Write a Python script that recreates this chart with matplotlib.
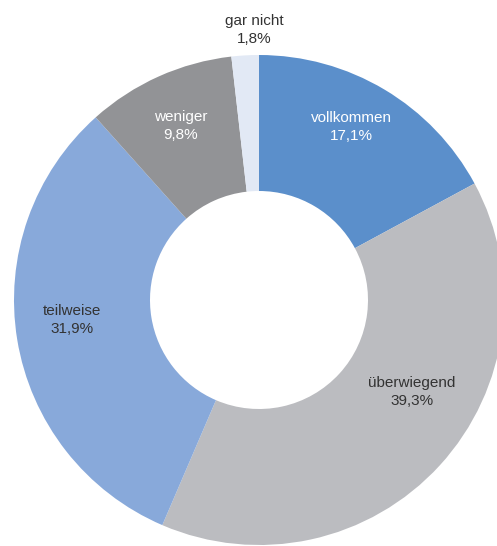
import matplotlib
matplotlib.use("Agg")
import matplotlib.pyplot as plt

# data
labels = ["vollkommen", "überwiegend", "teilweise", "weniger", "gar nicht"]
values = [17.1, 39.3, 31.9, 9.8, 1.8]
value_text = ["17,1%", "39,3%", "31,9%", "9,8%", "1,8%"]
colors = ["#5b8fcb", "#bbbcc0", "#88a9da", "#929396", "#e2e9f5"]
text_colors = ["white", "#333333", "#333333", "white", "#333333"]

# label positions in pixels (from top left)
label_pos = [(351, 127), (412, 392), (72, 320), (181, 126), (254, 30)]

W, H = 497, 546
fig = plt.figure(figsize=(W / 100, H / 100), dpi=100)
ax = fig.add_axes([0, 0, 1, 1])

cx, cy, r_out, r_in = 259, H - 300, 245, 109
ax.pie(values, colors=colors, startangle=90, counterclock=False,
       center=(cx, cy), radius=r_out, frame=True,
       wedgeprops=dict(width=r_out - r_in, linewidth=0))
ax.set_xlim(0, W)
ax.set_ylim(0, H)
ax.set_aspect("equal")
ax.axis("off")

for lab, val, tc, (px, py) in zip(labels, value_text, text_colors, label_pos):
    ax.text(px, H - py, lab + "\n" + val, color=tc, ha="center", va="center",
            fontsize=11, family="Liberation Sans", linespacing=1.35)

plt.savefig("out.png", dpi=100)
